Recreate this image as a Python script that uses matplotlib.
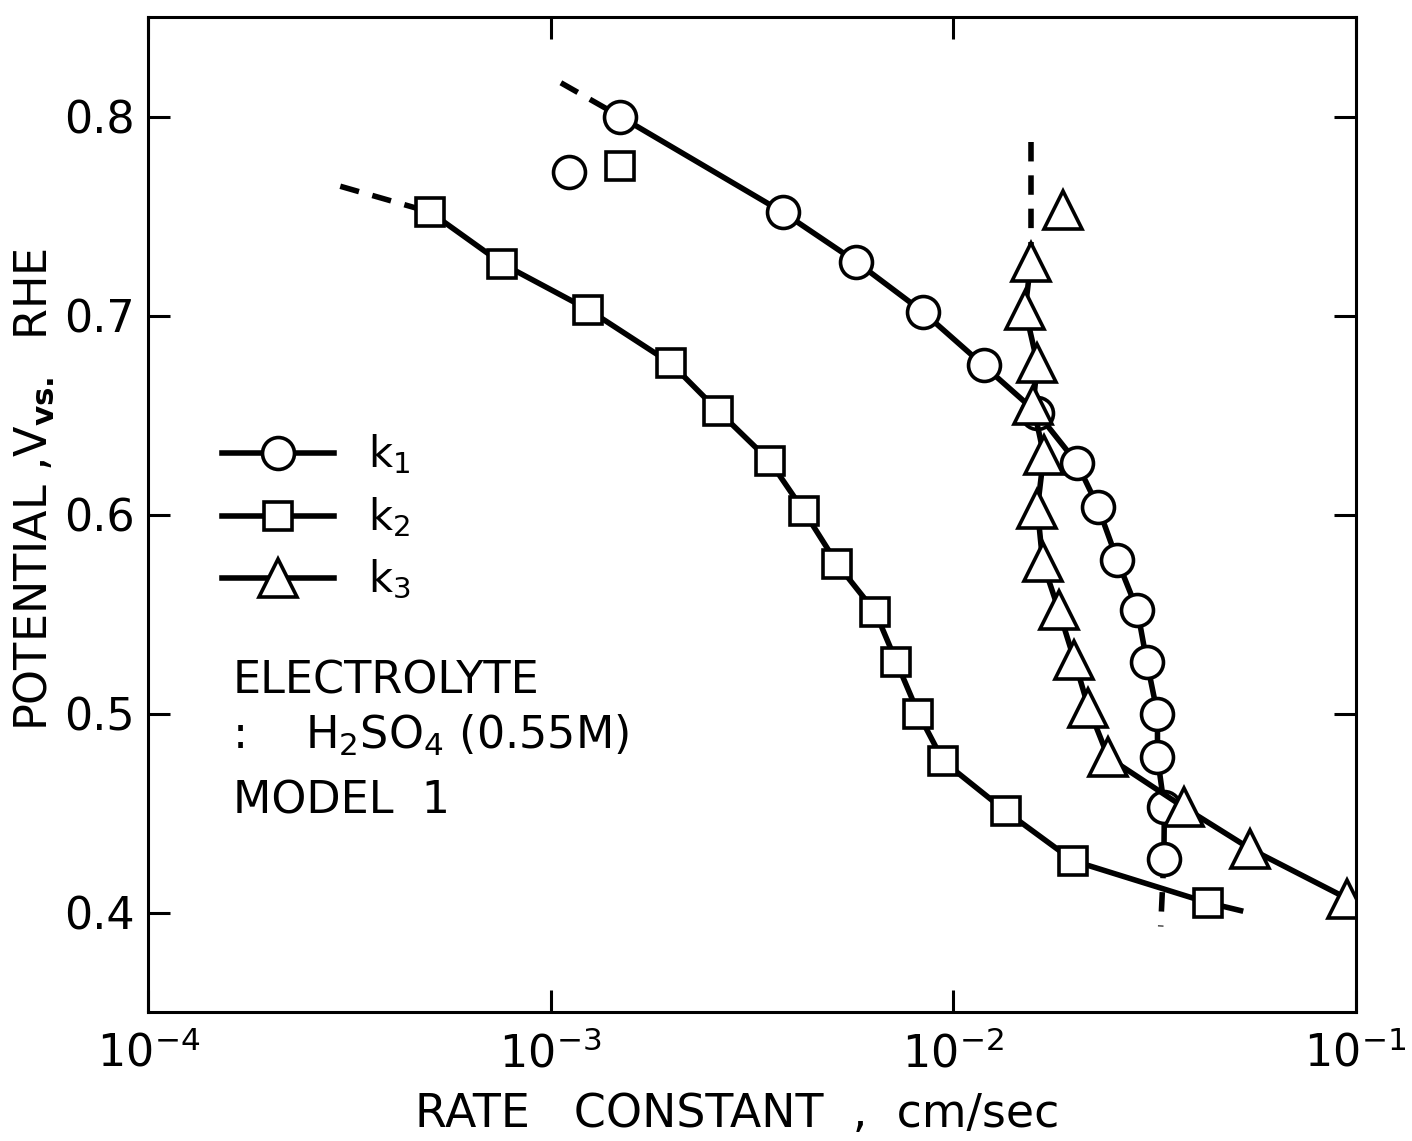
import matplotlib
matplotlib.use("Agg")
import matplotlib.pyplot as plt
from matplotlib.lines import Line2D
from matplotlib.ticker import LogLocator, NullLocator, LogFormatterMathtext

plt.rcParams['font.family'] = ['DejaVu Sans']
plt.rcParams['mathtext.fontset'] = 'dejavusans'

# rate constant (cm/sec) vs potential (V vs. RHE)
k1_rate = [1.49e-3, 3.77e-3, 5.75e-3, 8.40e-3, 1.19e-2, 1.62e-2, 2.03e-2, 2.29e-2,
           2.56e-2, 2.87e-2, 3.03e-2, 3.22e-2, 3.22e-2, 3.35e-2, 3.34e-2]
k1_pot = [0.800, 0.752, 0.727, 0.702, 0.675, 0.651, 0.626, 0.604,
          0.577, 0.552, 0.526, 0.500, 0.478, 0.453, 0.427]

k2_rate = [5.02e-4, 7.59e-4, 1.24e-3, 1.99e-3, 2.61e-3, 3.50e-3, 4.25e-3, 5.16e-3,
           6.41e-3, 7.23e-3, 8.20e-3, 9.46e-3, 1.35e-2, 1.99e-2, 4.29e-2]
k2_pot = [0.752, 0.726, 0.703, 0.676, 0.652, 0.627, 0.602, 0.575,
          0.551, 0.526, 0.500, 0.476, 0.451, 0.426, 0.405]

k3_rate = [1.56e-2, 1.51e-2, 1.62e-2, 1.58e-2, 1.68e-2, 1.62e-2, 1.67e-2, 1.83e-2,
           2.00e-2, 2.17e-2, 2.43e-2, 3.74e-2, 5.48e-2, 9.55e-2]
k3_pot = [0.727, 0.703, 0.676, 0.655, 0.630, 0.603, 0.576, 0.552,
          0.527, 0.503, 0.478, 0.453, 0.432, 0.407]

# points off the fitted curves
k1_out_rate, k1_out_pot = [1.11e-3], [0.772]
k2_out_rate, k2_out_pot = [1.49e-3], [0.775]
k3_out_rate, k3_out_pot = [1.88e-2], [0.753]

# dashed extrapolations of the curves
k1_top_rate, k1_top_pot = [1.06e-3, 1.49e-3], [0.817, 0.800]
k1_bot_rate, k1_bot_pot = [3.34e-2, 3.28e-2], [0.427, 0.393]
k2_top_rate, k2_top_pot = [3.0e-4, 5.02e-4], [0.765, 0.752]
k2_tail_rate, k2_tail_pot = [4.29e-2, 5.18e-2], [0.405, 0.401]
k3_top_rate, k3_top_pot = [1.56e-2, 1.56e-2], [0.787, 0.727]

lw = 4.0
mew = 2.6
dash = (0, (3.5, 2.5))
styles = {
    'k1': dict(marker='o', ms=23),
    'k2': dict(marker='s', ms=20),
    'k3': dict(marker='^', ms=27),
}

fig = plt.figure(figsize=(14.12, 11.41), dpi=100)
ax = fig.add_axes([0.105, 0.113, 0.855, 0.872])

# curves
ax.plot(k1_top_rate, k1_top_pot, color='k', lw=lw, ls=dash)
ax.plot(k1_bot_rate, k1_bot_pot, color='k', lw=lw, ls=dash)
ax.plot(k2_top_rate, k2_top_pot, color='k', lw=lw, ls=dash)
ax.plot(k2_tail_rate, k2_tail_pot, color='k', lw=lw)
ax.plot(k3_top_rate, k3_top_pot, color='k', lw=lw, ls=dash)

for rate, pot, key in [(k1_rate, k1_pot, 'k1'), (k2_rate, k2_pot, 'k2'), (k3_rate, k3_pot, 'k3')]:
    ax.plot(rate, pot, color='k', lw=lw, mfc='white', mec='k', mew=mew, **styles[key])

for rate, pot, key in [(k1_out_rate, k1_out_pot, 'k1'), (k2_out_rate, k2_out_pot, 'k2'),
                       (k3_out_rate, k3_out_pot, 'k3')]:
    ax.plot(rate, pot, ls='none', mfc='white', mec='k', mew=mew, **styles[key])

ax.set_xscale('log')
ax.set_xlim(1e-4, 1e-1)
ax.set_ylim(0.35, 0.85)
ax.xaxis.set_major_locator(LogLocator(base=10, numticks=10))
ax.xaxis.set_major_formatter(LogFormatterMathtext())
ax.xaxis.set_minor_locator(NullLocator())
ax.set_yticks([0.4, 0.5, 0.6, 0.7, 0.8])
ax.set_yticklabels(['0.4', '0.5', '0.6', '0.7', '0.8'])

ax.tick_params(which='major', direction='in', length=16, width=2.2,
               top=True, right=True, labelsize=32)
ax.tick_params(axis='x', pad=14)
ax.tick_params(axis='y', pad=10)
for sp in ax.spines.values():
    sp.set_linewidth(2.2)

ax.set_xlabel('RATE   CONSTANT  ,  cm/sec', fontsize=33)
ax.xaxis.set_label_coords(0.488, -0.08)
ax.set_ylabel(r'POTENTIAL ,V$_{\mathbf{vs.}}$  RHE', fontsize=32, va='center', ha='center')
ax.yaxis.set_label_coords(-0.095, 0.525)

# legend
handles = [Line2D([], [], color='k', lw=lw, mfc='white', mec='k', mew=mew, **styles[k])
           for k in ['k1', 'k2', 'k3']]
labels = [r'k$_{\mathregular{1}}$', r'k$_{\mathregular{2}}$', r'k$_{\mathregular{3}}$']
ax.legend(handles, labels, loc='upper left', bbox_to_anchor=(0.03, 0.62),
          frameon=False, fontsize=30, handlelength=2.7, handletextpad=0.8,
          labelspacing=0.45, numpoints=1)

ax.text(0.07, 0.333, 'ELECTROLYTE', transform=ax.transAxes, fontsize=32, va='center')
ax.text(0.07, 0.278, ':', transform=ax.transAxes, fontsize=32, va='center')
ax.text(0.13, 0.278, r'H$_{\mathregular{2}}$SO$_{\mathregular{4}}$ (0.55M)',
        transform=ax.transAxes, fontsize=32, va='center')
ax.text(0.07, 0.212, 'MODEL  1', transform=ax.transAxes, fontsize=32, va='center')

fig.savefig('out.png', dpi=100)
